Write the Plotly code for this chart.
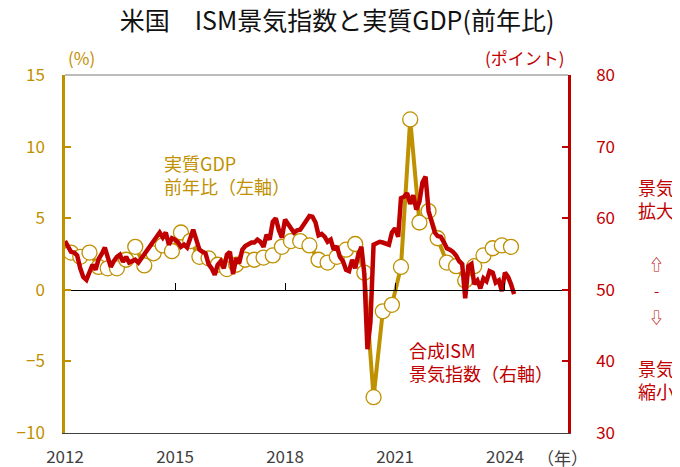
import plotly.graph_objects as go
import pandas as pd

# ---------------- data ----------------
ism_start = "2012-01-01"   # monthly, composite ISM (right axis)
ism_values = [
    56.8, 56.0, 55.3, 55.2, 54.8, 53.0, 51.8, 51.4, 52.3, 53.5, 52.8, 54.3,   # 2012
    55.0, 55.9, 54.6, 53.2, 54.0, 54.6, 54.9, 53.9, 54.6, 53.8, 54.0, 54.2,   # 2013
    53.8, 54.4, 55.0, 55.7, 56.3, 56.8, 57.4, 58.0, 57.3, 58.0, 56.3, 57.2,   # 2014
    57.0, 56.6, 56.0, 56.3, 55.9, 57.0, 58.4, 57.0, 55.6, 55.3, 55.1, 53.6,   # 2015
    53.0, 52.1, 53.5, 54.0, 53.0, 54.9, 55.3, 52.2, 54.4, 53.7, 55.6, 56.1,   # 2016
    56.3, 56.6, 56.6, 57.0, 56.7, 56.0, 57.7, 57.0, 59.5, 60.0, 58.3, 57.3,   # 2017
    59.8, 59.0, 58.6, 58.0, 58.3, 58.4, 59.0, 59.8, 60.3, 60.2, 59.4, 57.6,   # 2018
    57.8, 57.4, 56.7, 57.0, 55.6, 56.1, 54.6, 54.0, 52.8, 52.6, 54.2, 53.0,   # 2019
    54.9, 56.0, 52.2, 41.7, 45.5, 56.3, 56.5, 56.7, 56.6, 56.5, 56.3, 58.0,   # 2020
    58.6, 57.4, 62.8, 63.0, 63.5, 62.0, 63.2, 61.2, 62.3, 65.0, 65.8, 61.0,   # 2021
    59.3, 58.0, 57.5, 57.4, 56.7, 55.8, 55.6, 55.3, 54.8, 54.0, 53.6, 48.8,   # 2022
    53.3, 53.6, 50.8, 51.3, 50.2, 51.6, 51.2, 52.6, 52.4, 51.0, 51.3, 49.8,   # 2023
    52.4, 51.8, 50.8, 49.4,                                                   # 2024
]

gdp_start = "2012-03-01"   # quarterly, real GDP y/y % (left axis)
gdp_values = [
    2.6, 2.3, 2.6, 1.6,      # 2012
    1.5, 1.5, 2.1, 3.0,      # 2013
    1.7, 2.55, 3.1, 2.7,     # 2014
    4.0, 3.4, 2.3, 2.2,      # 2015
    1.75, 1.45, 1.75, 2.1,   # 2016
    2.1, 2.25, 2.4, 3.0,     # 2017
    3.4, 3.4, 3.1, 2.1,      # 2018
    1.9, 2.3, 2.8, 3.2,      # 2019
    1.2, -7.5, -1.5, -1.05,  # 2020
    1.6, 11.9, 4.7, 5.5,     # 2021
    3.6, 1.9, 1.65, 0.65,    # 2022
    1.65, 2.4, 2.9, 3.1,     # 2023
    3.0,                     # 2024
]

year_ticks = ["2012-01-01", "2015-01-01", "2018-01-01", "2021-01-01", "2024-01-01"]
year_labels = ["2012", "2015", "2018", "2021", "2024"]
x_range = ["2012-01-01", "2025-09-20"]

# ---------------- style ----------------
GOLD = "#BF9000"
RED = "#C00000"
GRAY = "#404040"
FONT = "Noto Sans CJK JP"

OFF = 8                      # page body margin of the viewer
W, H = 680 - OFF, 467 - OFF
L, R, T, B = 65 - OFF, 568 - OFF, 75 - OFF, 433 - OFF


def px(x):
    return (x - OFF - L) / (R - L)


def py(y):
    return (B - (y - OFF)) / (B - T)


ism_dates = pd.date_range(ism_start, periods=len(ism_values), freq="MS")
gdp_dates = pd.date_range(gdp_start, periods=len(gdp_values), freq="3MS")

fig = go.Figure()

# helper trace binding the zero-line axis (draws nothing)
fig.add_trace(go.Scatter(x=gdp_dates, y=gdp_values, mode="none", xaxis="x2", yaxis="y",
                         hoverinfo="skip", showlegend=False))

fig.add_trace(go.Scatter(
    x=gdp_dates, y=gdp_values, mode="lines+markers",
    line=dict(color=GOLD, width=4),
    marker=dict(size=15, color="white", line=dict(color=GOLD, width=1.3)),
    xaxis="x", yaxis="y", showlegend=False, name="実質GDP"))

fig.add_trace(go.Scatter(
    x=ism_dates, y=ism_values, mode="lines",
    line=dict(color=RED, width=4.5),
    xaxis="x", yaxis="y2", showlegend=False, name="合成ISM"))

fig.update_layout(
    width=W, height=H,
    margin=dict(l=L, r=W - R, t=T, b=H - B, pad=0, autoexpand=False),
    paper_bgcolor="white", plot_bgcolor="white",
    font=dict(family=FONT, size=17, color=GRAY),
    title=dict(text="米国　ISM景気指数と実質GDP(前年比)", x=(337 - OFF) / W, xanchor="center",
               y=1 - 13 / H, yanchor="middle",
               font=dict(family=FONT, size=25, color="#111111")),
    xaxis=dict(type="date", range=x_range, showgrid=False, zeroline=False,
               showline=True, linecolor=GRAY, linewidth=1, automargin=False,
               ticks="", tickvals=year_ticks, ticktext=year_labels,
               tickfont=dict(size=17, color=GRAY), ticklabelstandoff=9),
    xaxis2=dict(type="date", range=x_range, overlaying="x", anchor="free", position=0.4,
                side="bottom", showgrid=False, zeroline=False, automargin=False,
                showline=True, linecolor="black", linewidth=1,
                ticks="inside", ticklen=7, tickwidth=1, tickcolor="black",
                tickvals=year_ticks, showticklabels=False),
    yaxis=dict(range=[-10, 15], dtick=5, showgrid=False, zeroline=False, automargin=False,
               showline=True, linecolor=GOLD, linewidth=2.5,
               ticks="inside", ticklen=6, tickwidth=2, tickcolor=GOLD,
               tickfont=dict(size=17, color=GOLD), ticklabelstandoff=14),
    yaxis2=dict(range=[30, 80], dtick=10, overlaying="y", side="right",
                showgrid=False, zeroline=False, automargin=False,
                showline=True, linecolor=RED, linewidth=2.5,
                ticks="inside", ticklen=6, tickwidth=2, tickcolor=RED,
                tickfont=dict(size=17, color=RED), ticklabelstandoff=22),
    shapes=[dict(type="line", xref="paper", yref="paper", x0=0, x1=1, y0=1, y1=1,
                 line=dict(color="#A6A6A6", width=1.5), layer="below")],
)

ann = [
    dict(text="(%)", x=px(81), y=py(57), color=GOLD, size=17),
    dict(text="(ポイント)", x=px(525), y=py(57), color=RED, size=17),
    dict(text="（年）", x=px(562), y=py(457), color=GRAY, size=17),
    dict(text="景気<br>拡大", x=px(656), y=py(198), color=RED, size=18),
    dict(text="⇧", x=px(656), y=py(263), color=RED, size=15),
    dict(text="-", x=px(656), y=py(290), color=RED, size=15),
    dict(text="⇩", x=px(656), y=py(316), color=RED, size=15),
    dict(text="景気<br>縮小", x=px(656), y=py(379), color=RED, size=18),
]
for a in ann:
    fig.add_annotation(text=a["text"], x=a["x"], y=a["y"], xref="paper", yref="paper",
                       xanchor="center", yanchor="middle", showarrow=False,
                       font=dict(family=FONT, size=a["size"], color=a["color"]))

fig.add_annotation(text="実質GDP<br>前年比（左軸）", x=px(162), y=py(174), xref="paper", yref="paper",
                   xanchor="left", yanchor="middle", align="left", showarrow=False,
                   font=dict(family=FONT, size=18, color=GOLD))
fig.add_annotation(text="合成ISM<br>景気指数（右軸）", x=px(407), y=py(361), xref="paper", yref="paper",
                   xanchor="left", yanchor="middle", align="left", showarrow=False,
                   font=dict(family=FONT, size=18, color=RED))

fig.write_html("out.html")
